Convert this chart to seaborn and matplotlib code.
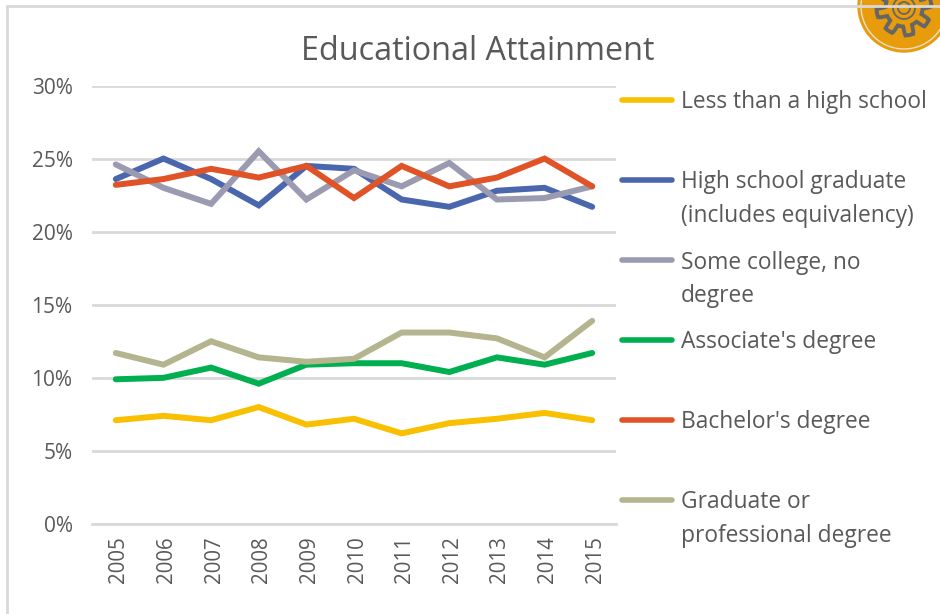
import matplotlib
matplotlib.use("Agg")
import matplotlib.pyplot as plt
from matplotlib.lines import Line2D
from matplotlib.patches import Circle, Polygon
from matplotlib.transforms import ScaledTranslation
import numpy as np
import pandas as pd
import seaborn as sns

years = [2005, 2006, 2007, 2008, 2009, 2010, 2011, 2012, 2013, 2014, 2015]
less_than_hs = [7.1, 7.4, 7.1, 8.0, 6.8, 7.2, 6.2, 6.9, 7.2, 7.6, 7.1]
hs_grad = [23.6, 25.0, 23.6, 21.8, 24.5, 24.3, 22.2, 21.7, 22.8, 23.0, 21.7]
some_college = [24.6, 23.0, 21.9, 25.5, 22.2, 24.2, 23.1, 24.7, 22.2, 22.3, 23.1]
associate = [9.9, 10.0, 10.7, 9.6, 10.9, 11.0, 11.0, 10.4, 11.4, 10.9, 11.7]
bachelor = [23.2, 23.6, 24.3, 23.7, 24.5, 22.3, 24.5, 23.1, 23.7, 25.0, 23.1]
graduate = [11.7, 10.9, 12.5, 11.4, 11.1, 11.3, 13.1, 13.1, 12.7, 11.4, 13.9]

names = ["Less than a high school", "High school graduate\n(includes equivalency)",
         "Some college, no\ndegree", "Associate's degree", "Bachelor's degree",
         "Graduate or\nprofessional degree"]
series = [less_than_hs, hs_grad, some_college, associate, bachelor, graduate]
colors = ["#F8C000", "#4A66AC", "#9A9AB0", "#00B050", "#DF5327", "#B4B48E"]
yticks = [0, 5, 10, 15, 20, 25, 30]

df = pd.DataFrame({n: s for n, s in zip(names, series)})
df["Year"] = [str(y) for y in years]
long = df.melt(id_vars="Year", var_name="Level", value_name="Share")

sns.set_theme(style="white")
plt.rcParams["font.family"] = ["Open Sans", "DejaVu Sans"]
W, H = 940, 614
fig = plt.figure(figsize=(W / 100, H / 100), dpi=100)
fig.patch.set_facecolor("white")
L, R, T, B = 92, 616, 85.5, 524
ax = fig.add_axes([L / W, 1 - B / H, (R - L) / W, (B - T) / H])
sns.lineplot(data=long, x="Year", y="Share", hue="Level", hue_order=names,
             palette=colors, linewidth=4.3, legend=False, ax=ax, sort=False,
             solid_joinstyle="miter", errorbar=None)
ax.set_xlim(-0.5, 10.5)
ax.set_ylim(0, 30)
ax.set_yticks(yticks)
ax.set_yticklabels([f"{v}%" for v in yticks], fontsize=15, color="#595959")
ax.tick_params(axis="x", labelrotation=90, labelsize=14.8, labelcolor="#595959", length=0, pad=9)
ax.tick_params(axis="y", length=0, pad=14)
shift = ScaledTranslation(3 / 100, 0, fig.dpi_scale_trans)
for lab in ax.get_xticklabels():
    lab.set_transform(lab.get_transform() + shift)
ax.set_xlabel("")
ax.set_ylabel("")
ax.grid(axis="y", color="#D9D9D9", linewidth=2)
ax.set_axisbelow(True)
for s in ax.spines.values():
    s.set_visible(False)
ax.spines["bottom"].set_visible(True)
ax.spines["bottom"].set_color("#D9D9D9")
ax.spines["bottom"].set_linewidth(2)

fig.text(478 / W, 1 - 51.5 / H, "Educational Attainment", ha="center", va="center",
         fontsize=23.3, color="#595959")

# legend
rows = [100, 180, 260, 340, 420, 500]
for name, color, y in zip(names, colors, rows):
    fig.add_artist(Line2D([622 / W, 672 / W], [1 - y / H, 1 - y / H], color=color, lw=4,
                          transform=fig.transFigure))
    fig.text(681 / W, 1 - (y - 9.5) / H, name, ha="left", va="top", fontsize=16.4,
             color="#595959", linespacing=1.5)

# outer frame
fig.add_artist(Line2D([7.5 / W, 7.5 / W], [0, 1 - 6 / H], color="#D9D9D9", lw=2, transform=fig.transFigure))
fig.add_artist(Line2D([7.5 / W, 1], [1 - 6 / H, 1 - 6 / H], color="#D9D9D9", lw=2, transform=fig.transFigure))

# gear badge in pixel coordinates
px = fig.add_axes([0, 0, 1, 1], facecolor="none")
px.set_xlim(0, W)
px.set_ylim(H, 0)
px.axis("off")
cx, cy = 904, 6
gy = 8
px.add_patch(Circle((cx, cy), 46, color="#E89C0C", zorder=1))
px.add_patch(Circle((cx, cy), 43, fill=False, ec="#E6E0D0", lw=1, zorder=2))
th = np.linspace(0, 2 * np.pi, 240, endpoint=False)
rg = 23 + 4.5 * np.clip(3 * np.cos(8 * (th + 0.2)), -1, 1)
px.add_patch(Polygon(np.c_[cx + rg * np.cos(th), gy + rg * np.sin(th)], closed=True, fill=False,
                     ec="#666666", lw=2.8, zorder=3))
px.add_patch(Circle((cx, gy), 11, fill=False, ec="#666666", lw=1.3, zorder=3))
px.add_patch(Circle((cx, gy), 6, fill=False, ec="#666666", lw=1.3, zorder=3))

fig.savefig("out.png", dpi=100)
